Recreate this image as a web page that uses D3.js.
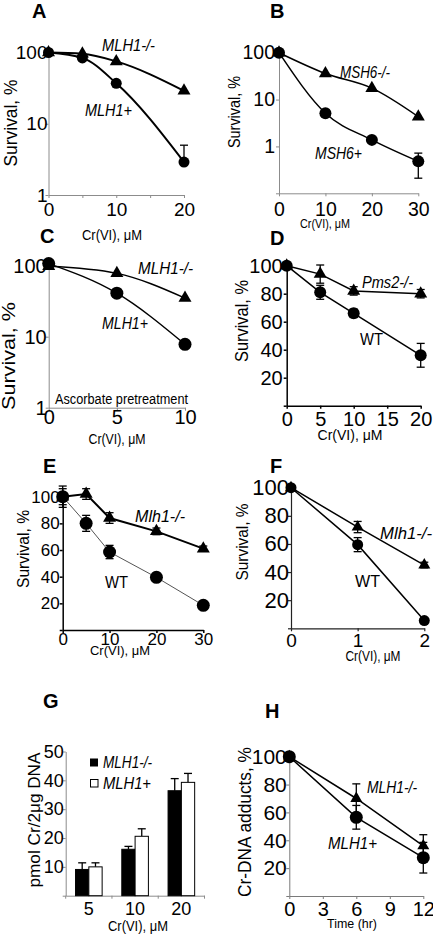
<!DOCTYPE html>
<html><head><meta charset="utf-8">
<script src="https://cdn.jsdelivr.net/npm/d3@7"></script>
<style>
html,body{margin:0;padding:0;background:#fff;}
svg{display:block;font-family:"Liberation Sans",Arial,Helvetica,sans-serif;}
</style></head><body>
<svg id="chart" width="433" height="935"></svg>
<script>
// ---------------- DATA ----------------
// Panel A
const doseA = [0, 5, 10, 20];
const survA_KO = [100, 96, 75, 29];
const survA_P = [100, 84, 37, 2.9];
const errA_P_hi = [0, 0, 0, 2.1];
// Panel B
const doseB = [0, 10, 20, 30];
const survB_KO = [100, 36, 17.5, 4.3];
const survB_P = [100, 5.1, 1.38, 0.48];
const errB_P_hi = [0, 0, 0, 0.24];
const errB_P_lo = [0, 0, 0, 0.27];
// Panel C
const doseC = [0, 5, 10];
const survC_KO = [98, 78, 35];
const survC_P = [107, 41, 7.8];
// Panel D
const doseD = [0, 5, 10, 20];
const survD_KO = [100, 94, 82, 80];
const errD_KO = [0, 6.5, 3, 3];
const survD_WT = [100, 81, 66, 36];
const errD_WT = [0, 5, 3, 8.5];
// Panel E
const doseE = [0, 5, 10, 20, 30];
const survE_KO = [100, 102, 84, 74, 61];
const errE_KO = [6, 4, 4, 2.5, 2];
const survE_WT = [100, 80, 58.5, 39.5, 18.5];
const errE_WT = [8, 6, 5, 3, 2];
// Panel F
const doseF = [0, 1, 2];
const survF_KO = [100, 72, 45];
const errF_KO = [2, 4, 2];
const survF_WT = [100, 59.5, 5.5];
const errF_WT = [2, 5, 1];
// Panel G
const catsG = ["5", "10", "20"];
const crG_KO = [9.1, 16.1, 36.4];
const errG_KO = [2.3, 1.0, 4.2];
const crG_P = [10.0, 20.6, 39.3];
const errG_P = [1.4, 2.6, 3.1];
// Panel H
const timeH = [0, 6, 12];
const addH_KO = [100, 70, 36];
const errH_KO = [0, 10.5, 8];
const addH_P = [100, 56.5, 27.5];
const errH_P = [0, 8.5, 11];

// ---------------- DRAWING ----------------
const svg = d3.select("#chart");

function addText(g, str, x, y, o = {}) {
  const t = g.append("text").attr("x", x).attr("y", y).text(str)
    .attr("font-size", o.size || 16).attr("fill", "#000");
  if (o.anchor) t.attr("text-anchor", o.anchor);
  if (o.italic) t.attr("font-style", "italic");
  if (o.bold) t.attr("font-weight", "bold");
  t.attr("dy", o.dy == null ? "0.35em" : o.dy);
  if (o.len) t.attr("textLength", o.len).attr("lengthAdjust", "spacingAndGlyphs");
  if (o.rotate) t.attr("transform", `rotate(-90,${x},${y})`);
  return t;
}

function styleAxis(a, color, w, font) {
  a.attr("font-family", null).attr("font-size", font);
  a.select(".domain").attr("stroke", color).attr("stroke-width", w);
  a.selectAll(".tick line").attr("stroke", color).attr("stroke-width", w);
  a.selectAll(".tick text").attr("fill", "#000");
}

function drawMarker(g, type, cx, cy, size) {
  if (type === "circle") {
    g.append("circle").attr("cx", cx).attr("cy", cy).attr("r", size / 2).attr("fill", "#000");
  } else {
    const area = size * size * Math.sqrt(3) / 4;
    g.append("path").attr("d", d3.symbol().type(d3.symbolTriangle).size(area)())
      .attr("transform", `translate(${cx},${cy})`).attr("fill", "#000");
  }
}

function errBar(g, cx, yTop, yBot, capTop, capBot, color, w) {
  g.append("line").attr("x1", cx).attr("x2", cx).attr("y1", yTop).attr("y2", yBot)
    .attr("stroke", color).attr("stroke-width", w);
  if (capTop) g.append("line").attr("x1", cx - 4).attr("x2", cx + 4).attr("y1", yTop).attr("y2", yTop)
    .attr("stroke", color).attr("stroke-width", w);
  if (capBot) g.append("line").attr("x1", cx - 4).attr("x2", cx + 4).attr("y1", yBot).attr("y2", yBot)
    .attr("stroke", color).attr("stroke-width", w);
}

function linePanel(p) {
  const g = svg.append("g");
  const x = d3.scaleLinear().domain(p.xDomain).range(p.xRange);
  const y = (p.log ? d3.scaleLog() : d3.scaleLinear()).domain(p.yDomain).range(p.yRange);
  const xa = d3.axisBottom(x).tickValues(p.xTicks)
    .tickFormat(d => p.xLabels.includes(d) ? d : "")
    .tickSize(3).tickSizeOuter(0).tickPadding(p.xPad);
  const gx = g.append("g").attr("transform", `translate(0,${p.yRange[0]})`).call(xa);
  styleAxis(gx, p.axisColor, p.axisWidth, p.xFont);
  const ya = d3.axisLeft(y).tickValues(p.yTicks)
    .tickFormat(d => p.yLabels.includes(d) ? d : "")
    .tickSize(3).tickSizeOuter(0).tickPadding(p.yPad);
  const gy = g.append("g").attr("transform", `translate(${p.xRange[0]},0)`).call(ya);
  styleAxis(gy, p.axisColor, p.axisWidth, p.yFont);

  p.series.forEach(s => {
    const pts = s.x.map((xv, i) => ({ x: xv, y: s.y[i] }));
    const line = d3.line().x(d => x(d.x)).y(d => y(d.y)).curve(s.curve || d3.curveLinear);
    g.append("path").attr("d", line(pts)).attr("fill", "none")
      .attr("stroke", s.lineColor || "#000").attr("stroke-width", s.lw);
  });
  p.series.forEach(s => {
    s.x.forEach((xv, i) => {
      const hi = s.hi ? s.hi[i] : 0, lo = s.lo ? s.lo[i] : 0;
      if (hi > 0 || lo > 0) {
        errBar(g, x(xv), y(s.y[i] + hi), y(s.y[i] - lo), hi > 0, lo > 0, "#000", 1.3);
      }
    });
  });
  p.series.forEach(s => {
    s.x.forEach((xv, i) => drawMarker(g, s.marker, x(xv), y(s.y[i]), s.size));
  });
  (p.labels || []).forEach(l => addText(g, l.t, l.x, l.y, l));
  return g;
}

// letters
const letters = [
  ["A", 32, 18], ["B", 270, 18], ["C", 40, 243], ["D", 270, 245],
  ["E", 43, 473], ["F", 270, 473], ["G", 43, 708], ["H", 265, 718]
];
letters.forEach(([t, x, y]) => addText(svg, t, x, y, { size: 20, bold: true, dy: 0 }));

const grey = "#8c8c8c";
const sv = "Survival, %", cr = "Cr(VI), \u03bcM";

// Panel A
linePanel({
  xDomain: [0, 20], xRange: [48.5, 184], yDomain: [1, 100], yRange: [195, 52.5], log: true,
  xTicks: [0, 5, 10, 15, 20], xLabels: [0, 10, 20], yTicks: [1, 10, 100], yLabels: [1, 10, 100],
  axisColor: grey, axisWidth: 1, xFont: 19, yFont: 19, xPad: 5, yPad: -2,
  series: [
    { x: doseA, y: survA_KO, marker: "tri", size: 13, lw: 2, curve: d3.curveMonotoneX },
    { x: doseA, y: survA_P, hi: errA_P_hi, marker: "circle", size: 11, lw: 2, curve: d3.curveMonotoneX }
  ],
  labels: [
    { t: "MLH1-/-", x: 102, y: 45, len: 53, italic: true, size: 16 },
    { t: "MLH1+", x: 85, y: 110, len: 47, italic: true, size: 16 },
    { t: sv, x: 11, y: 123, len: 87, size: 18, rotate: true, anchor: "middle" },
    { t: cr, x: 112, y: 235, len: 60, size: 14, anchor: "middle" }
  ]
});

// Panel B
linePanel({
  xDomain: [0, 30], xRange: [279, 418.3], yDomain: [0.1, 100], yRange: [193.3, 52.7], log: true,
  xTicks: [0, 10, 20, 30], xLabels: [0, 10, 20, 30], yTicks: [0.1, 1, 10, 100], yLabels: [1, 10, 100],
  axisColor: grey, axisWidth: 1, xFont: 19.5, yFont: 19.5, xPad: 6, yPad: 1,
  series: [
    { x: doseB, y: survB_KO, marker: "tri", size: 13, lw: 1.5, curve: d3.curveMonotoneX },
    { x: doseB, y: survB_P, hi: errB_P_hi, lo: errB_P_lo, marker: "circle", size: 12, lw: 1.5, curve: d3.curveMonotoneX }
  ],
  labels: [
    { t: "MSH6-/-", x: 340, y: 72, len: 50, italic: true, size: 16 },
    { t: "MSH6+", x: 315, y: 153, len: 47, italic: true, size: 16 },
    { t: sv, x: 234, y: 112, len: 72, size: 16, rotate: true, anchor: "middle" },
    { t: cr, x: 325, y: 223, len: 50, size: 13, anchor: "middle" }
  ]
});

// Panel C
linePanel({
  xDomain: [0, 10], xRange: [48.7, 185], yDomain: [1, 100], yRange: [407.7, 265.7], log: true,
  xTicks: [0, 5, 10], xLabels: [0, 5, 10], yTicks: [1, 10, 100], yLabels: [1, 10, 100],
  axisColor: grey, axisWidth: 1, xFont: 20, yFont: 20, xPad: -1, yPad: -1,
  series: [
    { x: doseC, y: survC_KO, marker: "tri", size: 13, lw: 1.5, curve: d3.curveMonotoneX },
    { x: doseC, y: survC_P, marker: "circle", size: 13, lw: 1.5, curve: d3.curveMonotoneX }
  ],
  labels: [
    { t: "MLH1-/-", x: 138, y: 268, len: 55, italic: true, size: 16 },
    { t: "MLH1+", x: 102, y: 323, len: 46, italic: true, size: 16 },
    { t: "Ascorbate pretreatment", x: 55, y: 399, len: 133, size: 14 },
    { t: sv, x: 9, y: 356, len: 108, size: 18, rotate: true, anchor: "middle" },
    { t: cr, x: 117, y: 439, len: 57, size: 14, anchor: "middle" }
  ]
});

// Panel D
linePanel({
  xDomain: [0, 20], xRange: [286.7, 420.7], yDomain: [0, 100], yRange: [405.7, 265.7],
  xTicks: [0, 5, 10, 15, 20], xLabels: [0, 5, 10, 15, 20], yTicks: [0, 20, 40, 60, 80, 100], yLabels: [20, 40, 60, 80, 100],
  axisColor: "#000", axisWidth: 1.5, xFont: 20, yFont: 20, xPad: 3, yPad: 1,
  series: [
    { x: doseD, y: survD_KO, hi: errD_KO, lo: errD_KO, marker: "tri", size: 13, lw: 1.5 },
    { x: doseD, y: survD_WT, hi: errD_WT, lo: errD_WT, marker: "circle", size: 12, lw: 1.5 }
  ],
  labels: [
    { t: "Pms2-/-", x: 362, y: 282, len: 51, italic: true, size: 16 },
    { t: "WT", x: 360, y: 339, len: 23, size: 16 },
    { t: sv, x: 241.7, y: 321, len: 82, size: 18, rotate: true, anchor: "middle" },
    { t: cr, x: 350, y: 435, len: 65, size: 15, anchor: "middle" }
  ]
});

// Panel E
linePanel({
  xDomain: [0, 30], xRange: [62.7, 203.3], yDomain: [0, 100], yRange: [630, 496.7],
  xTicks: [0, 10, 20, 30], xLabels: [0, 10, 20, 30], yTicks: [0, 20, 40, 60, 80, 100], yLabels: [20, 40, 60, 80, 100],
  axisColor: "#000", axisWidth: 1.5, xFont: 17, yFont: 17, xPad: 0, yPad: 0,
  series: [
    { x: doseE, y: survE_WT, hi: errE_WT, lo: errE_WT, marker: "circle", size: 13, lw: 1, lineColor: "#555" },
    { x: doseE, y: survE_KO, hi: errE_KO, lo: errE_KO, marker: "tri", size: 13, lw: 2 }
  ],
  labels: [
    { t: "Mlh1-/-", x: 135, y: 516, len: 50, italic: true, size: 16 },
    { t: "WT", x: 105, y: 582, len: 23, size: 16 },
    { t: sv, x: 23, y: 549, len: 78, size: 17, rotate: true, anchor: "middle" },
    { t: cr, x: 120, y: 650, len: 60, size: 13, anchor: "middle" }
  ]
});

// Panel F
linePanel({
  xDomain: [0, 2], xRange: [291, 424.3], yDomain: [0, 100], yRange: [628.3, 487.7],
  xTicks: [0, 1, 2], xLabels: [0, 1, 2], yTicks: [0, 20, 40, 60, 80, 100], yLabels: [20, 40, 60, 80, 100],
  axisColor: "#222", axisWidth: 1.2, xFont: 19, yFont: 22, xPad: 2, yPad: -1,
  series: [
    { x: doseF, y: survF_KO, hi: errF_KO, lo: errF_KO, marker: "tri", size: 12, lw: 1.5 },
    { x: doseF, y: survF_WT, hi: errF_WT, lo: errF_WT, marker: "circle", size: 11, lw: 1.5 }
  ],
  labels: [
    { t: "Mlh1-/-", x: 380, y: 533, len: 52, italic: true, size: 16 },
    { t: "WT", x: 355, y: 581, len: 25, size: 16 },
    { t: sv, x: 241.7, y: 542, len: 77, size: 17, rotate: true, anchor: "middle" },
    { t: cr, x: 373, y: 656, len: 55, size: 14, anchor: "middle" }
  ]
});

// Panel G (bars)
(function () {
  const g = svg.append("g");
  const x = d3.scaleBand().domain(catsG).range([65.7, 204.5]);
  const y = d3.scaleLinear().domain([0, 50]).range([895.7, 751.5]);
  const bw = 13.3;
  const xa = d3.axisBottom(x).tickSize(0).tickSizeOuter(0).tickPadding(7);
  const gx = g.append("g").attr("transform", `translate(0,${y(0)})`).call(xa);
  styleAxis(gx, grey, 1, 18);
  d3.range(catsG.length + 1).forEach(i => {
    const bx = x.range()[0] + i * x.step();
    g.append("line").attr("x1", bx).attr("x2", bx).attr("y1", y(0)).attr("y2", y(0) + 3)
      .attr("stroke", grey);
  });
  const ya = d3.axisLeft(y).tickValues([0, 10, 20, 30, 40, 50])
    .tickFormat(d => d === 0 ? "" : d).tickSize(3).tickSizeOuter(0).tickPadding(-1);
  const gy = g.append("g").attr("transform", `translate(${x.range()[0]},0)`).call(ya);
  styleAxis(gy, grey, 1, 18);

  const series = [
    { v: crG_KO, e: errG_KO, fill: "#000", off: -bw },
    { v: crG_P, e: errG_P, fill: "#fff", off: 0 }
  ];
  series.forEach(s => {
    catsG.forEach((c, i) => {
      const cx = x(c) + x.bandwidth() / 2 + s.off;
      errBar(g, cx + bw / 2, y(s.v[i] + s.e[i]), y(s.v[i]), true, false, "#000", 1.3);
      g.append("rect").attr("x", cx).attr("width", bw).attr("y", y(s.v[i]))
        .attr("height", y(0) - y(s.v[i])).attr("fill", s.fill).attr("stroke", "#000").attr("stroke-width", 1);
    });
  });
  // legend
  g.append("rect").attr("x", 90).attr("y", 758.5).attr("width", 8).attr("height", 8).attr("fill", "#000");
  g.append("rect").attr("x", 90.5).attr("y", 779.5).attr("width", 7.5).attr("height", 7.5)
    .attr("fill", "#fff").attr("stroke", "#000").attr("stroke-width", 1);
  addText(g, "MLH1-/-", 103, 762, { len: 49, italic: true, size: 16 });
  addText(g, "MLH1+", 103, 783, { len: 48, italic: true, size: 16 });
  addText(g, "pmol Cr/2\u03bcg DNA", 34.5, 820, { len: 135, size: 17, rotate: true, anchor: "middle" });
  addText(g, cr, 138, 926, { len: 60, size: 14, anchor: "middle" });
})();

// Panel H
linePanel({
  xDomain: [0, 12], xRange: [289.3, 423.3], yDomain: [0, 100], yRange: [896, 756.7],
  xTicks: [0, 3, 6, 9, 12], xLabels: [0, 3, 6, 9, 12], yTicks: [0, 20, 40, 60, 80, 100], yLabels: [20, 40, 60, 80, 100],
  axisColor: "#7a7a7a", axisWidth: 1, xFont: 20, yFont: 21, xPad: 3, yPad: -0.5,
  series: [
    { x: timeH, y: addH_KO, hi: errH_KO, lo: errH_KO, marker: "tri", size: 12, lw: 1.5 },
    { x: timeH, y: addH_P, hi: errH_P, lo: errH_P, marker: "circle", size: 13, lw: 1.5 }
  ],
  labels: [
    { t: "MLH1-/-", x: 367, y: 787, len: 50, italic: true, size: 16 },
    { t: "MLH1+", x: 328, y: 843, len: 49, italic: true, size: 16 },
    { t: "Cr-DNA adducts, %", x: 245, y: 822, len: 150, size: 18, rotate: true, anchor: "middle" },
    { t: "Time (hr)", x: 352, y: 924, len: 50, size: 12, anchor: "middle" }
  ]
});
</script>
</body></html>
